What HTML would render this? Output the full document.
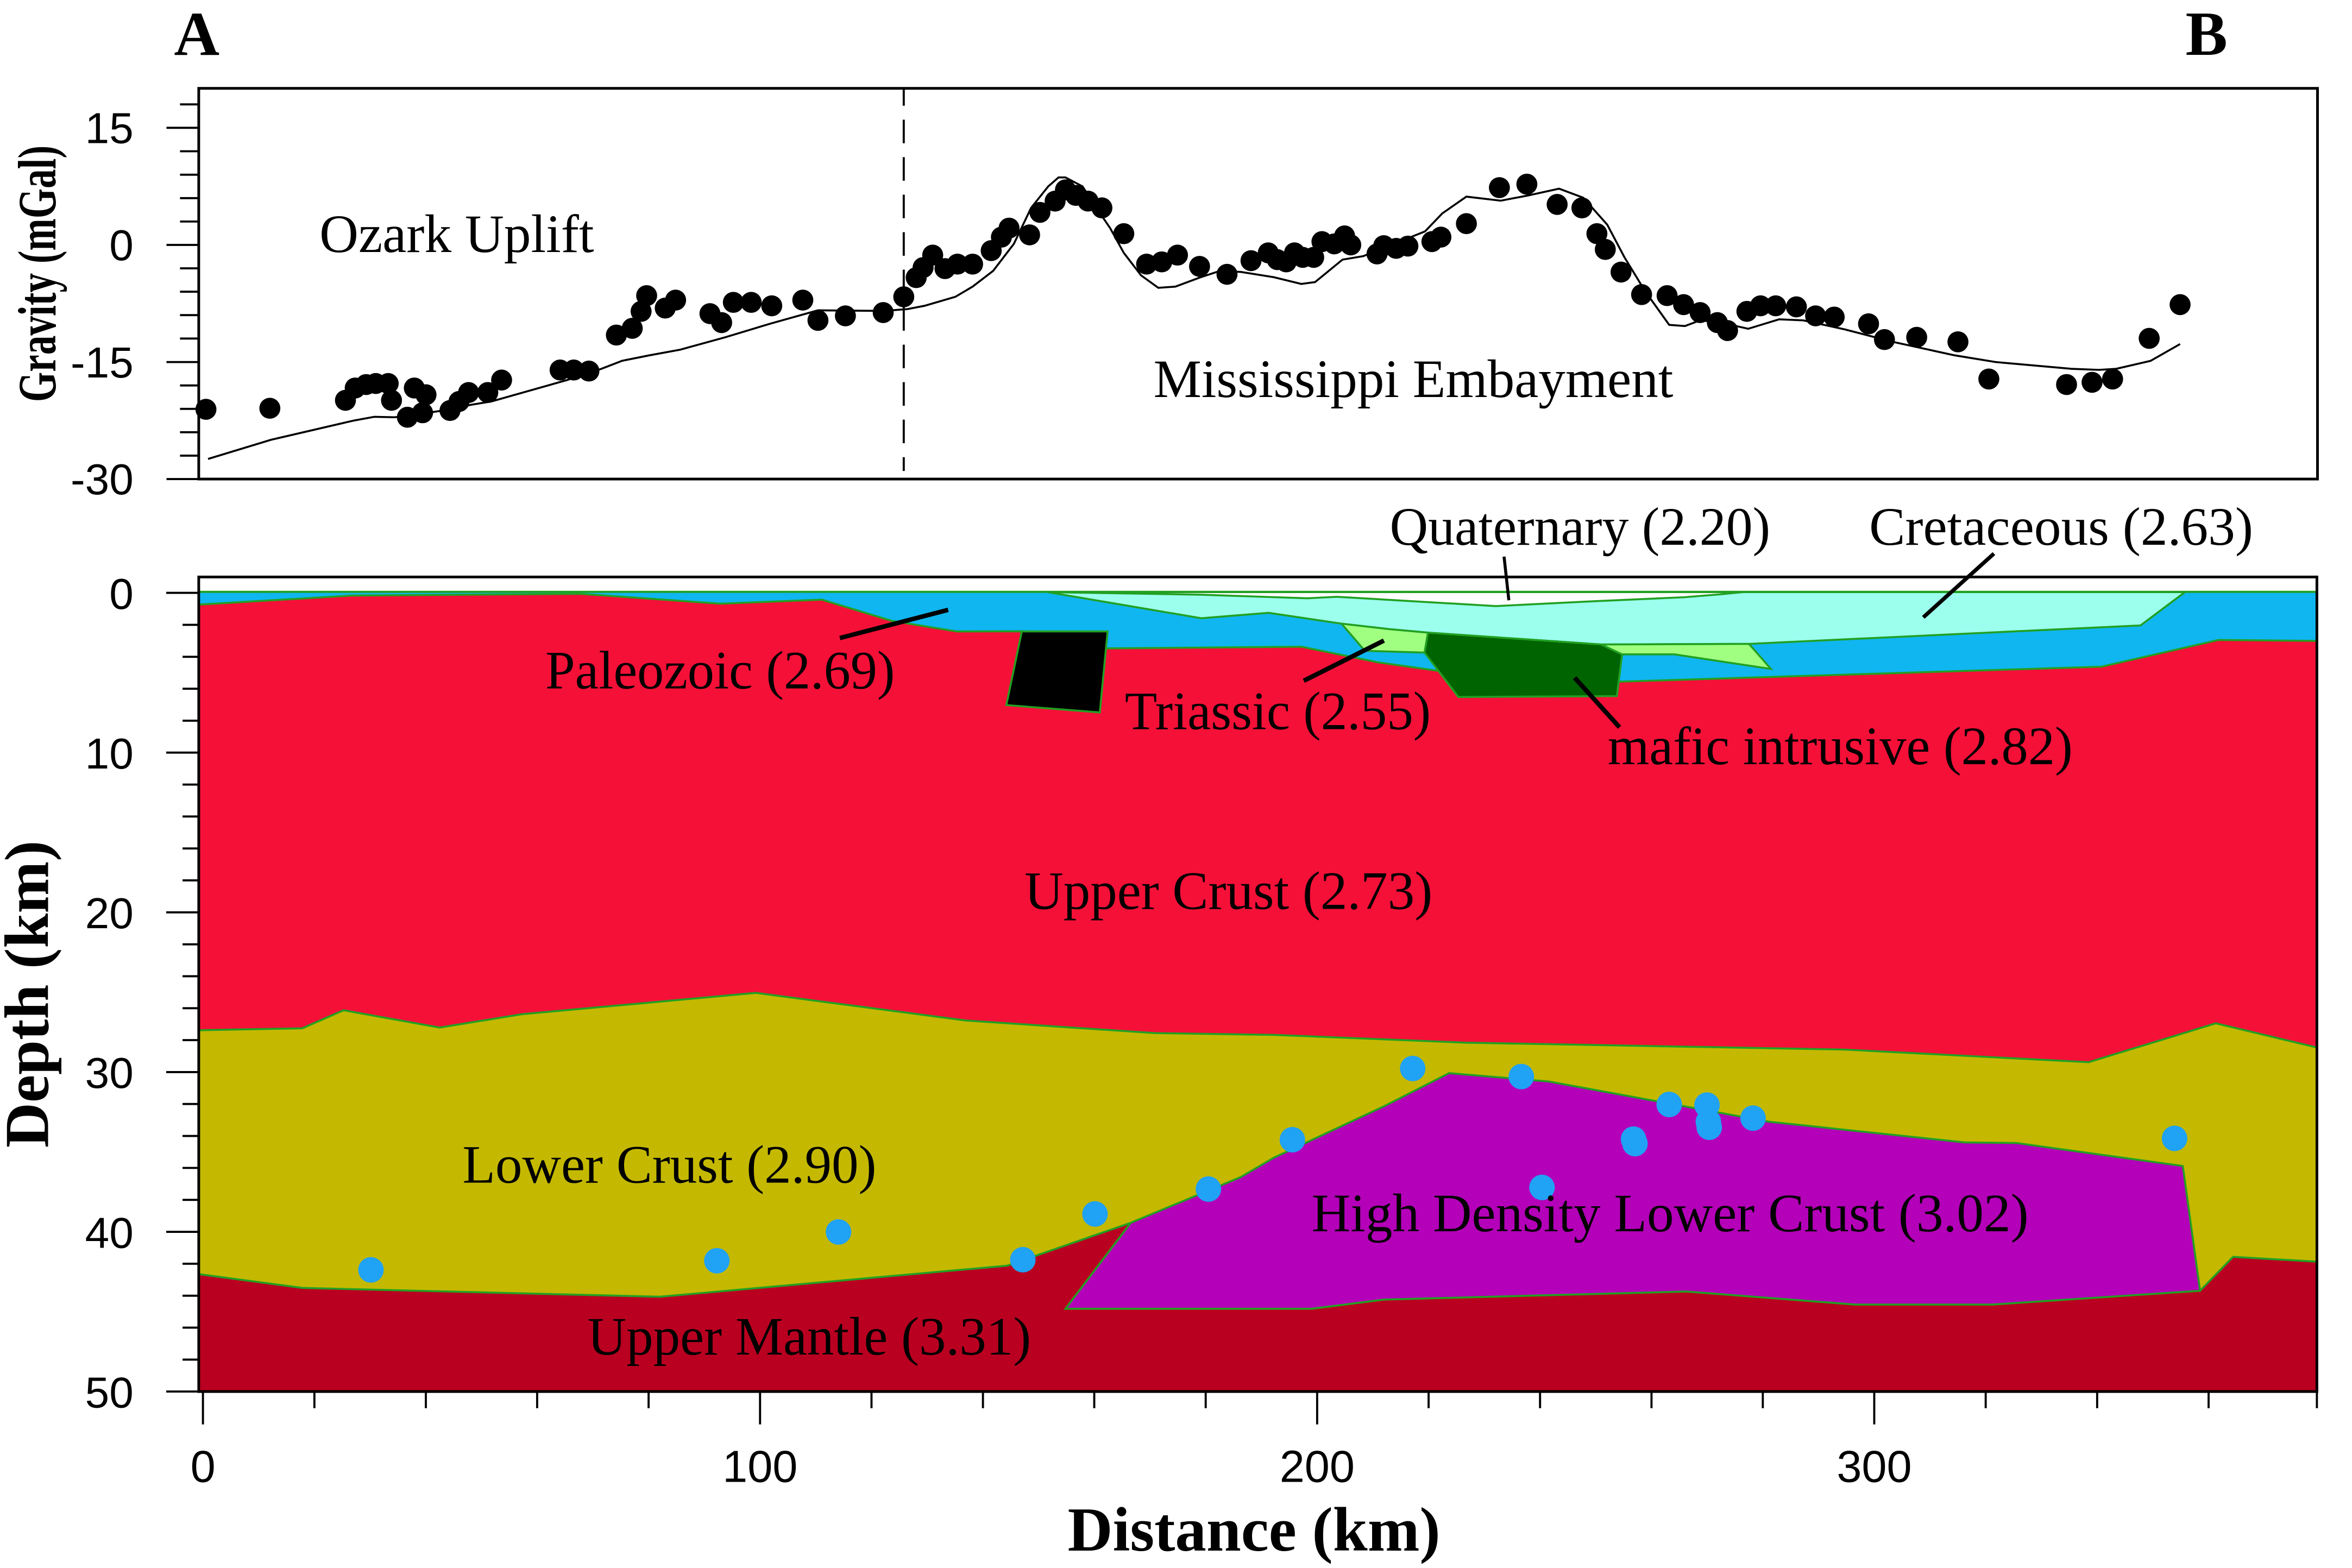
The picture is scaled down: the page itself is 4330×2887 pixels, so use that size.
<!DOCTYPE html>
<html>
<head>
<meta charset="utf-8">
<style>
html,body{margin:0;padding:0;background:#fff;}
svg{display:block;}
.serif{font-family:"Liberation Serif","Times New Roman",serif;}
.sans{font-family:"Liberation Sans",Arial,sans-serif;}
</style>
</head>
<body>
<svg xmlns="http://www.w3.org/2000/svg" width="4330" height="2887" viewBox="0 0 1568 1045.45" preserveAspectRatio="none">
<rect x="0" y="0" width="1568" height="1045.45" fill="#fff"/>

<!-- ================= TOP PANEL ================= -->
<!-- dashed divider -->
<line x1="602.5" y1="59" x2="602.5" y2="314" stroke="#000" stroke-width="1.4" stroke-dasharray="15.7 9.3" stroke-dashoffset="4.2"/>

<!-- fitted curve -->
<polyline fill="none" stroke="#000" stroke-width="1.3" points="138.7,306 180.8,293.2 235.8,280.4 249.6,277.9 263.3,278.2 280,276 300,273 313.8,269.9 327.5,267.7 378,253.4 400.9,245.9 414.6,240.6 433,236.9 453.6,233.1 483.4,224.9 513.2,215.9 545.3,206.9 588.8,207.3 604.9,206.1 616.3,203.9 636.9,197.9 648.4,191.1 662.1,180.6 675.9,162.6 687.4,138.6 698.8,124.3 705.7,118.3 710.3,118.3 721.7,124.3 730.9,138.6 740.1,152.1 749.2,168.6 760.7,183.6 772.2,191.9 783.6,191.1 799.7,185.1 813.4,180.6 827.2,181.3 849.2,184.8 867.5,189.3 876.7,188.1 895,173.1 908.8,170.8 950,154.3 961.5,142.3 977.6,131.1 1000.5,133.8 1018.8,130.3 1039.4,125.8 1055.5,131.8 1071.5,149.8 1083,171.6 1096.7,194.1 1112.8,216.6 1123.3,217.4 1133.4,213.6 1147.2,215.1 1165.5,219.2 1186.1,212.9 1202.2,213.6 1229.7,219.6 1261.8,227.9 1303,236.9 1330.5,241.4 1380.9,245.9 1399.3,246.6 1410.8,245.9 1433.7,240.6 1453.4,229.4"/>

<!-- observed gravity points -->
<g fill="#000">
<circle cx="137.3" cy="272.9" r="7"/><circle cx="179.9" cy="272.2" r="7"/><circle cx="230.3" cy="266.9" r="7"/><circle cx="236.8" cy="258.7" r="7"/><circle cx="244.1" cy="256.4" r="7"/><circle cx="250.5" cy="255.7" r="7"/><circle cx="258.8" cy="255.7" r="7"/><circle cx="261" cy="266.9" r="7"/><circle cx="271.6" cy="278.2" r="7"/><circle cx="276.2" cy="258.7" r="7"/><circle cx="281.7" cy="275.2" r="7"/><circle cx="284" cy="263.2" r="7"/><circle cx="300" cy="273.7" r="7"/><circle cx="306" cy="267.7" r="7"/><circle cx="312.4" cy="261.7" r="7"/><circle cx="325.2" cy="261.7" r="7"/><circle cx="334.4" cy="253.4" r="7"/><circle cx="373.4" cy="246.7" r="7"/><circle cx="382.5" cy="246.7" r="7"/><circle cx="392.6" cy="247.4" r="7"/><circle cx="410.9" cy="223.4" r="7"/><circle cx="421.5" cy="218.9" r="7"/><circle cx="427.4" cy="207.6" r="7"/><circle cx="431.1" cy="197.1" r="7"/><circle cx="443.5" cy="205.4" r="7"/><circle cx="450.4" cy="200.1" r="7"/><circle cx="473.3" cy="209.1" r="7"/><circle cx="481.1" cy="215.1" r="7"/><circle cx="488.9" cy="201.6" r="7"/><circle cx="500.8" cy="201.6" r="7"/><circle cx="514.5" cy="203.9" r="7"/><circle cx="535.2" cy="200.1" r="7"/><circle cx="545.3" cy="213.6" r="7"/><circle cx="563.6" cy="210.6" r="7"/><circle cx="588.8" cy="208.4" r="7"/><circle cx="602.5" cy="197.9" r="7"/><circle cx="610.8" cy="185.1" r="7"/><circle cx="615.4" cy="178.4" r="7"/><circle cx="621.8" cy="170.1" r="7"/><circle cx="630" cy="179.1" r="7"/><circle cx="638.3" cy="176.1" r="7"/><circle cx="648.4" cy="176.1" r="7"/><circle cx="660.8" cy="167.1" r="7"/><circle cx="667.6" cy="158.1" r="7"/><circle cx="672.7" cy="152.1" r="7"/><circle cx="686.4" cy="156.6" r="7"/><circle cx="693.3" cy="141.6" r="7"/><circle cx="703.4" cy="134.1" r="7"/><circle cx="710.3" cy="126.6" r="7"/><circle cx="717.2" cy="130.3" r="7"/><circle cx="725.4" cy="134.1" r="7"/><circle cx="734.6" cy="138.6" r="7"/><circle cx="749.2" cy="155.8" r="7"/><circle cx="764.4" cy="176.1" r="7"/><circle cx="774.5" cy="174.6" r="7"/><circle cx="785" cy="170.1" r="7"/><circle cx="799.7" cy="177.6" r="7"/><circle cx="818" cy="182.9" r="7"/><circle cx="834" cy="173.8" r="7"/><circle cx="845.5" cy="168.6" r="7"/>
<circle cx="851.5" cy="173.1" r="7"/><circle cx="857.5" cy="174.6" r="7"/><circle cx="863" cy="168.6" r="7"/><circle cx="868.5" cy="171.6" r="7"/><circle cx="875.8" cy="171.6" r="7"/><circle cx="881.3" cy="161.1" r="7"/><circle cx="889.5" cy="162.6" r="7"/><circle cx="896.4" cy="157.3" r="7"/><circle cx="900.5" cy="163.3" r="7"/><circle cx="918" cy="169.3" r="7"/><circle cx="922.5" cy="163.8" r="7"/><circle cx="930.8" cy="165.6" r="7"/><circle cx="938.6" cy="164.1" r="7"/><circle cx="954.6" cy="161.1" r="7"/><circle cx="960.6" cy="158.1" r="7"/><circle cx="977.6" cy="149.1" r="7"/><circle cx="999.6" cy="125.1" r="7"/><circle cx="1017.9" cy="122.8" r="7"/><circle cx="1038.1" cy="136.3" r="7"/><circle cx="1054.6" cy="138.6" r="7"/><circle cx="1064.6" cy="155.8" r="7"/><circle cx="1070.2" cy="166.3" r="7"/><circle cx="1080.7" cy="181.4" r="7"/><circle cx="1094.4" cy="196.4" r="7"/><circle cx="1111.4" cy="197.1" r="7"/><circle cx="1122.4" cy="203.1" r="7"/><circle cx="1133.4" cy="208.4" r="7"/><circle cx="1144.9" cy="215.1" r="7"/><circle cx="1151.7" cy="220.4" r="7"/><circle cx="1164.6" cy="207.6" r="7"/><circle cx="1173.7" cy="203.9" r="7"/><circle cx="1183.8" cy="203.9" r="7"/><circle cx="1197.6" cy="204.6" r="7"/><circle cx="1210.4" cy="210.6" r="7"/><circle cx="1222.8" cy="211.4" r="7"/><circle cx="1245.7" cy="215.9" r="7"/><circle cx="1256.3" cy="226.4" r="7"/><circle cx="1277.8" cy="224.9" r="7"/><circle cx="1305.3" cy="227.9" r="7"/><circle cx="1325.9" cy="252.7" r="7"/><circle cx="1377.7" cy="256.4" r="7"/><circle cx="1394.7" cy="254.9" r="7"/><circle cx="1408.4" cy="252.7" r="7"/><circle cx="1432.8" cy="225.6" r="7"/><circle cx="1453.4" cy="203.1" r="7"/>
</g>

<!-- top panel frame -->
<rect x="132.5" y="58.9" width="1412.5" height="260.5" fill="none" stroke="#000" stroke-width="1.8"/>
<!-- top panel y ticks -->
<path stroke="#000" stroke-width="1.4" fill="none" d="
M120,69.6H132.5 M111,85.2H132.5 M120,100.85H132.5 M120,116.5H132.5 M120,132.1H132.5 M120,147.7H132.5
M111,163.3H132.5 M120,178.9H132.5 M120,194.5H132.5 M120,210.1H132.5 M120,225.7H132.5
M111,241.4H132.5 M120,257H132.5 M120,272.6H132.5 M120,288.2H132.5 M120,303.8H132.5 M111,319.4H132.5"/>
<g class="sans" font-size="29" text-anchor="end" fill="#000">
<text x="89" y="95.4">15</text>
<text x="89" y="173.5">0</text>
<text x="89" y="251.6">-15</text>
<text x="89" y="329.6">-30</text>
</g>

<text class="serif" font-size="36" x="213" y="168" textLength="183" lengthAdjust="spacingAndGlyphs">Ozark Uplift</text>
<text class="serif" font-size="36" x="769" y="264.7" textLength="346.5" lengthAdjust="spacingAndGlyphs">Mississippi Embayment</text>

<text class="serif" font-size="42" font-weight="bold" x="116" y="36.5">A</text>
<text class="serif" font-size="42" font-weight="bold" x="1457" y="36.5">B</text>

<text class="serif" font-size="36" font-weight="bold" text-anchor="middle" transform="translate(37,182.5) rotate(-90)" x="0" y="0" textLength="171" lengthAdjust="spacingAndGlyphs">Gravity (mGal)</text>

<!-- ================= BOTTOM PANEL ================= -->
<!-- upper mantle background -->
<rect x="132.5" y="384.7" width="1412.1" height="543.1" fill="#BA0020"/>
<!-- lower crust -->
<path fill="#C4B900" stroke="#22A022" stroke-width="1.3" d="M132.5,600 L1544.6,600 L1544.6,841.2 L1488.7,838 L1466.7,860.6 L753.8,815.3 L671.3,843.9 L439.8,864.6 L201.5,858.7 L132.5,849.5 Z"/>
<!-- paleozoic blue band -->
<rect x="132.5" y="394" width="1412.1" height="80" fill="#10B6F0"/>
<!-- upper crust -->
<path fill="#F51038" stroke="#22A022" stroke-width="1.3" d="M132.5,403.1 L234.3,397.1 L386.8,395.9 L480.3,402.5 L547.9,399.8 L594.6,414 L637.9,421 L683.2,420.9 L738.1,432.3 L867.7,431.2 L918.7,441.6 L962.6,447.8 L1079.7,454.5 L1401,444.5 L1479,426.7 L1544.6,427.3 L1544.6,698.4 L1477.2,682.3 L1392.4,708.2 L1229.7,699.8 L977.6,695.2 L849.2,690 L769.9,688.8 L643.8,680.4 L504,662 L348.1,676.2 L293.1,685.1 L229,673.6 L201.5,685.6 L132.5,686.9 Z"/>
<!-- cretaceous -->
<path fill="#9CFFEE" stroke="#22A022" stroke-width="1.3" d="M698.6,394.8 L1456.6,394.8 L1427,417 L1166,429.3 L1067.5,429.7 L952,421.8 L925.5,419.4 L894.3,415.8 L845.8,408.6 L800.8,412.2 Z"/>
<!-- triassic 1 -->
<path fill="#A0FF80" stroke="#22A022" stroke-width="1.3" d="M894.3,415.8 L925.5,419.4 L952,421.8 L949.7,435.1 L909.9,433.9 Z"/>
<!-- mafic intrusive -->
<path fill="#006400" stroke="#22A022" stroke-width="1.3" d="M952,421.8 L1067.5,429.7 L1081.4,436.3 L1077.9,464.1 L972.2,464.7 L949.7,435.1 Z"/>
<!-- triassic 2 -->
<path fill="#A0FF80" stroke="#22A022" stroke-width="1.3" d="M1067.5,429.7 L1166,429.3 L1180.6,446 L1116.3,436.3 L1081.4,436.3 Z"/>
<!-- black block -->
<path fill="#000" stroke="#22A022" stroke-width="1.3" d="M681.2,421 L738.4,421 L733.2,475 L670.9,470.1 Z"/>
<!-- quaternary -->
<path fill="#fff" stroke="#22A022" stroke-width="1.3" d="M698.6,394.8 L800,396.5 L871.6,398.9 L891.2,397.9 L997.2,404.1 L1064,400.8 L1122.8,398.2 L1146.4,396.3 L1162,394.8 Z"/>
<!-- sky band -->
<rect x="132.5" y="384.7" width="1412.1" height="9.8" fill="#fff"/>
<line x1="132.5" y1="394.6" x2="1544.6" y2="394.6" stroke="#22A022" stroke-width="1.4"/>

<!-- high density lower crust -->
<path fill="#B400B8" stroke="#22A022" stroke-width="1.3" d="M753.8,815.3 L827.2,784.8 L849.2,771.9 L922.5,737.7 L966.1,715.5 L1032.6,721.1 L1179.3,747.9 L1309.9,761.7 L1344.3,762.1 L1455.2,777.4 L1466.7,860.6 L1328.2,869.8 L1236.6,869.8 L1124.2,861.1 L922.5,866.5 L874.4,872.6 L710.3,872.6 Z"/>

<!-- earthquake dots -->
<g fill="#20A2F5">
<circle cx="247.3" cy="846.7" r="8.5"/><circle cx="477.9" cy="840.6" r="8.5"/><circle cx="559" cy="821.4" r="8.5"/><circle cx="681.9" cy="839.9" r="8.5"/><circle cx="730" cy="809.4" r="8.5"/><circle cx="805.6" cy="792.8" r="8.5"/><circle cx="861.6" cy="759.9" r="8.5"/><circle cx="941.8" cy="712.4" r="8.5"/><circle cx="1014.2" cy="717.8" r="8.5"/><circle cx="1112.8" cy="736.4" r="8.5"/><circle cx="1138" cy="736.8" r="8.5"/><circle cx="1138.9" cy="748" r="8.5"/><circle cx="1139.5" cy="751.6" r="8.5"/><circle cx="1168.7" cy="745.5" r="8.5"/><circle cx="1089" cy="759.5" r="8.5"/><circle cx="1090" cy="762.5" r="8.5"/><circle cx="1028" cy="791.7" r="8.5"/><circle cx="1449.7" cy="759" r="8.5"/>
</g>

<!-- leader lines -->
<g stroke="#000" fill="none">
<line x1="632.1" y1="406.6" x2="559.9" y2="425.4" stroke-width="3"/>
<line x1="922.6" y1="427.1" x2="869.2" y2="453.9" stroke-width="3"/>
<line x1="1049.8" y1="451.9" x2="1079.7" y2="484.9" stroke-width="3"/>
<line x1="1002.7" y1="371.1" x2="1005.9" y2="400.2" stroke-width="2"/>
<line x1="1329.3" y1="369.1" x2="1282.2" y2="411.6" stroke-width="2.6"/>
</g>

<!-- bottom panel frame -->
<rect x="132.5" y="384.7" width="1412.1" height="543.1" fill="none" stroke="#000" stroke-width="1.8"/>

<!-- depth ticks -->
<path stroke="#000" stroke-width="1.4" fill="none" d="
M110.8,395.3H132.5 M121.7,416.6H132.5 M121.7,437.9H132.5 M121.7,459.2H132.5 M121.7,480.5H132.5
M110.8,501.8H132.5 M121.7,523.1H132.5 M121.7,544.4H132.5 M121.7,565.7H132.5 M121.7,587H132.5
M110.8,608.3H132.5 M121.7,629.6H132.5 M121.7,650.9H132.5 M121.7,672.2H132.5 M121.7,693.5H132.5
M110.8,714.8H132.5 M121.7,736.1H132.5 M121.7,757.4H132.5 M121.7,778.7H132.5 M121.7,800H132.5
M110.8,821.3H132.5 M121.7,842.6H132.5 M121.7,863.9H132.5 M121.7,885.2H132.5 M121.7,906.5H132.5
M110.8,927.8H132.5"/>
<!-- distance ticks -->
<path stroke="#000" stroke-width="1.4" fill="none" d="
M135.3,927.8V949.7 M209.6,927.8V938.9 M283.9,927.8V938.9 M358.1,927.8V938.9 M432.4,927.8V938.9
M506.7,927.8V949.7 M581,927.8V938.9 M655.3,927.8V938.9 M729.5,927.8V938.9 M803.8,927.8V938.9
M878.1,927.8V949.7 M952.4,927.8V938.9 M1026.7,927.8V938.9 M1101,927.8V938.9 M1175.2,927.8V938.9
M1249.5,927.8V949.7 M1323.8,927.8V938.9 M1398.1,927.8V938.9 M1472.4,927.8V938.9 M1544.6,927.8V938.9"/>

<g class="sans" font-size="29" text-anchor="end" fill="#000">
<text x="89" y="405.9">0</text>
<text x="89" y="512.4">10</text>
<text x="89" y="618.9">20</text>
<text x="89" y="725.4">30</text>
<text x="89" y="831.9">40</text>
<text x="89" y="938.4">50</text>
</g>
<g class="sans" font-size="30" text-anchor="middle" fill="#000">
<text x="135.3" y="988">0</text>
<text x="506.7" y="988">100</text>
<text x="878.1" y="988">200</text>
<text x="1249.5" y="988">300</text>
</g>

<text class="serif" font-size="42" font-weight="bold" x="836" y="1033.8" text-anchor="middle" textLength="248.5" lengthAdjust="spacingAndGlyphs">Distance (km)</text>
<text class="serif" font-size="42" font-weight="bold" text-anchor="middle" transform="translate(32,662.8) rotate(-90)" x="0" y="0" textLength="204.8" lengthAdjust="spacingAndGlyphs">Depth (km)</text>

<!-- layer labels -->
<g class="serif" font-size="36" fill="#000">
<text x="926.5" y="363.3" textLength="253.7" lengthAdjust="spacingAndGlyphs">Quaternary (2.20)</text>
<text x="1246.1" y="363.3" textLength="256" lengthAdjust="spacingAndGlyphs">Cretaceous (2.63)</text>
<text x="363.6" y="459" textLength="233" lengthAdjust="spacingAndGlyphs">Paleozoic (2.69)</text>
<text x="749.9" y="486.2" textLength="204" lengthAdjust="spacingAndGlyphs">Triassic (2.55)</text>
<text x="1071.8" y="509.5" textLength="310" lengthAdjust="spacingAndGlyphs">mafic intrusive (2.82)</text>
<text x="683" y="606" textLength="272" lengthAdjust="spacingAndGlyphs">Upper Crust (2.73)</text>
<text x="308.3" y="788.5" textLength="276" lengthAdjust="spacingAndGlyphs">Lower Crust (2.90)</text>
<text x="874.4" y="820.9" textLength="478" lengthAdjust="spacingAndGlyphs">High Density Lower Crust (3.02)</text>
<text x="391.7" y="903.1" textLength="295.7" lengthAdjust="spacingAndGlyphs">Upper Mantle (3.31)</text>
</g>
</svg>
</body>
</html>
